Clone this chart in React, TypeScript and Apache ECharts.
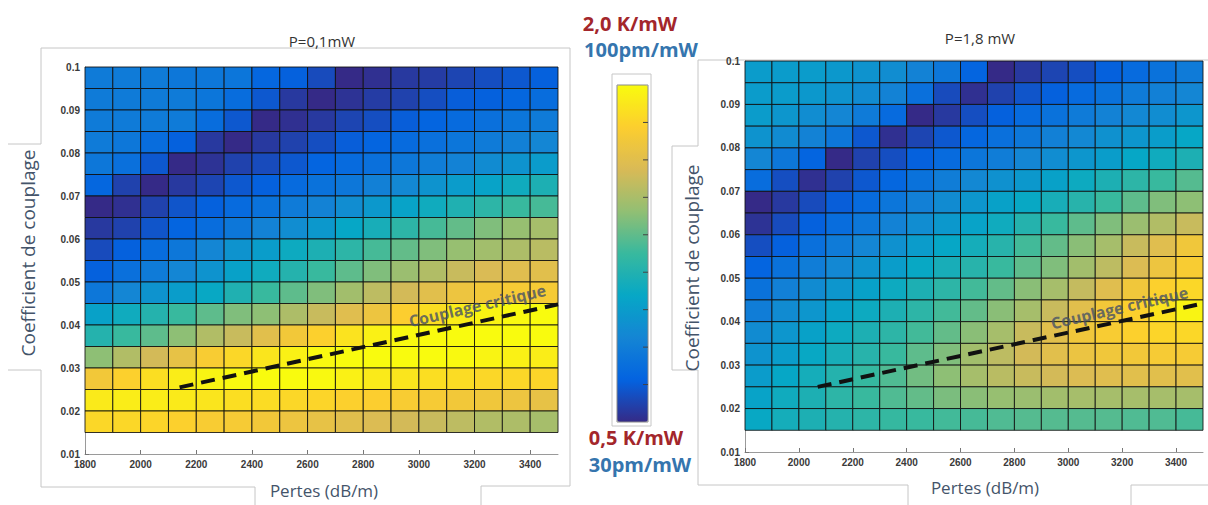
import React, { useEffect, useRef } from "react";
import * as echarts from "echarts";

// ---- data ----
// Bin centres of the maps
const XS = [1850, 1950, 2050, 2150, 2250, 2350, 2450, 2550, 2650, 2750, 2850, 2950, 3050, 3150, 3250, 3350, 3450];
const YS = [0.0975, 0.0925, 0.0875, 0.0825, 0.0775, 0.0725, 0.0675, 0.0625, 0.0575, 0.0525, 0.0475, 0.0425, 0.0375, 0.0325, 0.0275, 0.0225, 0.0175];
const CELL_W = 100;
const CELL_H = 0.005;

// Thermal sensitivity (K/mW), rows top (0.0975) to bottom (0.0175), P = 0,1 mW
const LEFT_K = [
  [0.82, 0.82, 0.82, 0.80, 0.80, 0.79, 0.71, 0.68, 0.61, 0.50, 0.52, 0.55, 0.56, 0.59, 0.62, 0.65, 0.68],
  [0.82, 0.82, 0.82, 0.82, 0.79, 0.74, 0.65, 0.55, 0.50, 0.53, 0.56, 0.58, 0.62, 0.67, 0.68, 0.71, 0.74],
  [0.82, 0.82, 0.82, 0.82, 0.74, 0.65, 0.50, 0.52, 0.55, 0.59, 0.62, 0.67, 0.70, 0.73, 0.76, 0.79, 0.82],
  [0.82, 0.80, 0.74, 0.68, 0.55, 0.50, 0.55, 0.58, 0.62, 0.67, 0.70, 0.73, 0.76, 0.79, 0.82, 0.85, 0.88],
  [0.80, 0.76, 0.65, 0.50, 0.53, 0.58, 0.61, 0.65, 0.70, 0.73, 0.76, 0.80, 0.83, 0.86, 0.91, 0.95, 1.00],
  [0.71, 0.58, 0.50, 0.55, 0.59, 0.65, 0.68, 0.73, 0.77, 0.80, 0.85, 0.89, 0.95, 1.00, 1.04, 1.10, 1.15],
  [0.50, 0.52, 0.58, 0.64, 0.68, 0.73, 0.77, 0.82, 0.86, 0.92, 0.98, 1.04, 1.10, 1.16, 1.21, 1.25, 1.28],
  [0.55, 0.58, 0.64, 0.70, 0.74, 0.80, 0.86, 0.92, 0.98, 1.06, 1.13, 1.21, 1.28, 1.34, 1.40, 1.45, 1.49],
  [0.61, 0.68, 0.74, 0.80, 0.88, 0.95, 1.01, 1.09, 1.15, 1.21, 1.28, 1.34, 1.40, 1.45, 1.48, 1.51, 1.54],
  [0.68, 0.76, 0.82, 0.88, 0.95, 1.03, 1.10, 1.18, 1.25, 1.33, 1.40, 1.46, 1.52, 1.58, 1.63, 1.66, 1.67],
  [0.80, 0.88, 0.95, 1.01, 1.07, 1.16, 1.25, 1.33, 1.40, 1.48, 1.55, 1.61, 1.67, 1.73, 1.76, 1.78, 1.78],
  [1.03, 1.10, 1.18, 1.25, 1.33, 1.40, 1.43, 1.51, 1.58, 1.66, 1.73, 1.81, 1.88, 1.94, 1.97, 1.99, 2.00],
  [1.18, 1.25, 1.33, 1.43, 1.52, 1.58, 1.67, 1.76, 1.82, 1.90, 1.96, 1.99, 2.00, 2.00, 2.00, 2.00, 2.00],
  [1.43, 1.52, 1.61, 1.70, 1.79, 1.85, 1.91, 1.96, 1.99, 2.00, 2.00, 2.00, 2.00, 1.99, 1.97, 1.96, 1.94],
  [1.76, 1.82, 1.88, 1.94, 1.97, 1.99, 2.00, 2.00, 1.99, 1.96, 1.93, 1.91, 1.88, 1.87, 1.85, 1.85, 1.84],
  [1.93, 1.94, 1.94, 1.93, 1.91, 1.88, 1.87, 1.85, 1.84, 1.82, 1.81, 1.79, 1.78, 1.76, 1.75, 1.73, 1.70],
  [1.85, 1.85, 1.84, 1.82, 1.79, 1.78, 1.76, 1.73, 1.70, 1.67, 1.64, 1.61, 1.58, 1.55, 1.52, 1.51, 1.49],
];

// P = 1,8 mW
const RIGHT_K = [
  [1.00, 1.00, 1.00, 0.98, 0.95, 0.92, 0.86, 0.80, 0.70, 0.50, 0.55, 0.59, 0.62, 0.68, 0.73, 0.77, 0.82],
  [1.00, 1.00, 0.98, 0.95, 0.91, 0.86, 0.76, 0.61, 0.52, 0.58, 0.64, 0.68, 0.73, 0.77, 0.82, 0.85, 0.88],
  [1.00, 0.97, 0.92, 0.88, 0.82, 0.73, 0.50, 0.55, 0.62, 0.68, 0.73, 0.77, 0.82, 0.86, 0.89, 0.92, 0.97],
  [0.95, 0.91, 0.86, 0.80, 0.65, 0.52, 0.59, 0.65, 0.71, 0.76, 0.80, 0.85, 0.89, 0.94, 0.97, 1.01, 1.06],
  [0.88, 0.80, 0.70, 0.50, 0.58, 0.62, 0.68, 0.73, 0.79, 0.83, 0.88, 0.92, 0.97, 1.01, 1.06, 1.10, 1.15],
  [0.74, 0.62, 0.52, 0.58, 0.65, 0.71, 0.77, 0.83, 0.89, 0.94, 0.98, 1.03, 1.09, 1.15, 1.21, 1.25, 1.31],
  [0.50, 0.55, 0.61, 0.67, 0.73, 0.79, 0.85, 0.91, 0.97, 1.03, 1.07, 1.13, 1.19, 1.25, 1.33, 1.40, 1.43],
  [0.53, 0.61, 0.68, 0.74, 0.80, 0.86, 0.92, 0.98, 1.04, 1.10, 1.18, 1.25, 1.33, 1.40, 1.46, 1.52, 1.58],
  [0.62, 0.68, 0.76, 0.82, 0.88, 0.94, 1.00, 1.06, 1.12, 1.19, 1.27, 1.34, 1.42, 1.49, 1.58, 1.66, 1.75],
  [0.70, 0.77, 0.83, 0.89, 0.95, 1.01, 1.07, 1.13, 1.19, 1.25, 1.33, 1.40, 1.48, 1.55, 1.64, 1.73, 1.79],
  [0.77, 0.85, 0.91, 0.97, 1.03, 1.09, 1.15, 1.21, 1.27, 1.34, 1.42, 1.49, 1.57, 1.66, 1.75, 1.82, 1.85],
  [0.83, 0.91, 0.97, 1.03, 1.09, 1.15, 1.21, 1.27, 1.34, 1.42, 1.49, 1.58, 1.67, 1.76, 1.82, 1.90, 1.97],
  [0.91, 0.97, 1.03, 1.09, 1.15, 1.21, 1.27, 1.34, 1.42, 1.49, 1.58, 1.67, 1.75, 1.79, 1.82, 1.84, 1.85],
  [0.95, 1.01, 1.07, 1.13, 1.19, 1.25, 1.33, 1.40, 1.48, 1.55, 1.61, 1.67, 1.72, 1.75, 1.76, 1.78, 1.78],
  [1.00, 1.06, 1.12, 1.18, 1.24, 1.30, 1.37, 1.43, 1.49, 1.54, 1.58, 1.61, 1.64, 1.66, 1.67, 1.67, 1.67],
  [1.04, 1.10, 1.15, 1.21, 1.25, 1.30, 1.34, 1.39, 1.42, 1.45, 1.46, 1.48, 1.49, 1.49, 1.49, 1.49, 1.49],
  [1.07, 1.12, 1.15, 1.18, 1.21, 1.24, 1.25, 1.27, 1.28, 1.30, 1.31, 1.31, 1.31, 1.31, 1.30, 1.30, 1.28],
];

// Critical coupling lines [pertes, coefficient]
const CRIT_LEFT = [[2140, 0.0255], [3500, 0.0448]];
const CRIT_RIGHT = [[2070, 0.0250], [3500, 0.0442]];
// Annotation anchors
const CRIT_LABEL_LEFT = [[3210, 0.0445]];
const CRIT_LABEL_RIGHT = [[3190, 0.0432]];

const SCALE_MIN = 0.5; // K/mW
const SCALE_MAX = 2.0; // K/mW
const TITLES = ["P=0,1mW", "P=1,8 mW"];
const X_NAME = "Pertes (dB/m)";
const Y_NAME = "Coefficient de couplage";
const CRIT_TEXT = "Couplage critique";

const PARULA = ["#352a87", "#0363e1", "#1485d4", "#06a7c6", "#38b99e", "#92bf73", "#d9ba56", "#fcce2e", "#f9fb0e"];

function cells(table: number[][]) {
  const out: number[][] = [];
  table.forEach((row, r) => row.forEach((v, c) => out.push([XS[c], YS[r], v])));
  return out;
}

const renderCell = (_params: any, api: any) => {
  const x = api.value(0);
  const y = api.value(1);
  const a = api.coord([x - CELL_W / 2, y + CELL_H / 2]);
  const b = api.coord([x + CELL_W / 2, y - CELL_H / 2]);
  return {
    type: "rect",
    shape: { x: a[0], y: a[1], width: b[0] - a[0], height: b[1] - a[1] },
    style: { fill: api.visual("color"), stroke: "rgba(15,15,15,0.85)", lineWidth: 1 },
  };
};

const tickFont = { fontFamily: "Liberation Sans", fontWeight: "bold", fontSize: 10, color: "#3a3a3a" };

function xAxis(gi: number) {
  return {
    type: "value",
    gridIndex: gi,
    min: 1800,
    max: 3500,
    interval: 200,
    axisLine: { show: true, lineStyle: { color: "#9a9a9a", width: 1 } },
    axisTick: { show: true, inside: true, length: 4, lineStyle: { color: "#777" } },
    axisLabel: { ...tickFont, margin: 5, showMaxLabel: false, formatter: (v: number) => String(v) },
    splitLine: { show: false },
  };
}
function yAxis(gi: number) {
  return {
    type: "value",
    gridIndex: gi,
    min: 0.01,
    max: 0.1,
    interval: 0.01,
    axisLine: { show: true, lineStyle: { color: "#9a9a9a", width: 1 } },
    axisTick: { show: true, inside: true, length: 4, lineStyle: { color: "#777" } },
    axisLabel: { ...tickFont, margin: 5 },
    splitLine: { show: false },
  };
}

const critSeries = (gi: number, data: number[][]) => ({
  type: "line",
  xAxisIndex: gi,
  yAxisIndex: gi,
  data,
  symbol: "none",
  z: 5,
  lineStyle: { color: "#111", width: 4, type: [14, 8] },
  silent: true,
});

const labelSeries = (gi: number, data: number[][]) => ({
  type: "scatter",
  xAxisIndex: gi,
  yAxisIndex: gi,
  data,
  symbolSize: 1,
  itemStyle: { color: "rgba(0,0,0,0)" },
  z: 6,
  label: {
    show: true,
    position: "inside",
    formatter: CRIT_TEXT,
    rotate: 13,
    color: "#465166",
    fontFamily: "Open Sans",
    fontWeight: "bold",
    fontSize: 16,
    align: "center",
    verticalAlign: "middle",
  },
  silent: true,
});

const frameStyle = { stroke: "#c6c6c6", lineWidth: 1, fill: "none" };

function buildGraphic() {
  const els: any[] = [];
  const poly = (pts: number[][]) => els.push({ type: "polyline", shape: { points: pts }, style: frameStyle, silent: true, z: 0 });
  // left frame
  poly([[8, 144], [41, 144], [41, 48], [570, 48], [570, 486], [481, 486], [481, 505]]);
  poly([[8, 370], [41, 370], [41, 487], [255, 487], [255, 505]]);
  // right frame
  poly([[1208, 60], [698, 60], [698, 146], [672, 146], [672, 370], [698, 370], [698, 485], [908, 485], [908, 505]]);
  poly([[1131, 505], [1131, 485], [1208, 485]]);
  // colour bar frame + border + ticks
  els.push({ type: "rect", shape: { x: 612, y: 74, width: 39, height: 352 }, style: frameStyle, silent: true, z: 0 });
  els.push({ type: "rect", shape: { x: 617, y: 85, width: 31, height: 337 }, style: { stroke: "#8a8a8a", lineWidth: 1, fill: "none" }, silent: true, z: 100 });
  for (let k = 1; k <= 8; k++) {
    const y = 85 + (k * 337) / 9;
    els.push({ type: "line", shape: { x1: 643, y1: y, x2: 648, y2: y }, style: { stroke: "#444", lineWidth: 1 }, silent: true, z: 100 });
  }
  const txt = (x: number, y: number, text: string, fill: string, size: number, weight: string, rotation = 0) =>
    els.push({
      type: "text",
      x,
      y,
      rotation,
      silent: true,
      z: 100,
      style: { text, fill, fontSize: size, fontWeight: weight, fontFamily: "Open Sans", align: "center", verticalAlign: "middle" },
    });
  txt(630, 23, "2,0 K/mW", "#a3262b", 20, "bold");
  txt(641, 49, "100pm/mW", "#3575ae", 20, "bold");
  txt(636, 437, "0,5 K/mW", "#a3262b", 20, "bold");
  txt(640, 464, "30pm/mW", "#3575ae", 20, "bold");
  txt(322, 41, TITLES[0], "#333333", 15, "normal");
  txt(980, 38, TITLES[1], "#333333", 15, "normal");
  txt(324, 490, X_NAME, "#44546a", 17, "normal");
  txt(985, 487, X_NAME, "#44546a", 17, "normal");
  txt(28, 253, Y_NAME, "#44546a", 19, "normal", Math.PI / 2);
  txt(692, 268, Y_NAME, "#44546a", 19, "normal", Math.PI / 2);
  return els;
}

export default function App() {
  const ref = useRef<HTMLDivElement>(null);
  useEffect(() => {
    if (!ref.current) return;
    const chart = echarts.init(ref.current, undefined, { renderer: "svg" });
    chart.setOption({
      animation: false,
      backgroundColor: "#ffffff",
      grid: [
        { left: 85, top: 67, width: 473, height: 387 },
        { left: 745, top: 61, width: 458, height: 391 },
      ],
      xAxis: [xAxis(0), xAxis(1)],
      yAxis: [yAxis(0), yAxis(1)],
      visualMap: {
        type: "continuous",
        min: SCALE_MIN,
        max: SCALE_MAX,
        dimension: 2,
        seriesIndex: [0, 1],
        calculable: false,
        orient: "vertical",
        left: 617,
        top: 85,
        padding: 0,
        itemWidth: 31,
        itemHeight: 337,
        text: null,
        inRange: { color: PARULA },
      },
      series: [
        { type: "custom", xAxisIndex: 0, yAxisIndex: 0, data: cells(LEFT_K), encode: { x: 0, y: 1 }, renderItem: renderCell, silent: true },
        { type: "custom", xAxisIndex: 1, yAxisIndex: 1, data: cells(RIGHT_K), encode: { x: 0, y: 1 }, renderItem: renderCell, silent: true },
        critSeries(0, CRIT_LEFT),
        critSeries(1, CRIT_RIGHT),
        labelSeries(0, CRIT_LABEL_LEFT),
        labelSeries(1, CRIT_LABEL_RIGHT),
      ],
      graphic: buildGraphic(),
    });
    return () => chart.dispose();
  }, []);
  return <div ref={ref} style={{ position: "absolute", left: 0, top: 0, width: 1208, height: 505 }} />;
}
